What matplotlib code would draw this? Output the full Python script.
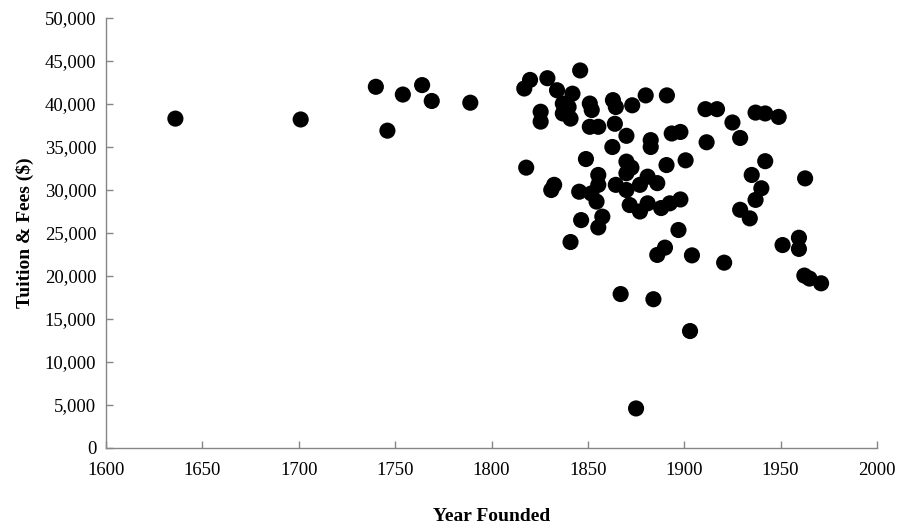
import matplotlib
matplotlib.use("Agg")
import matplotlib.pyplot as plt
from matplotlib.ticker import FuncFormatter

year_founded = [
    1636, 1701, 1740, 1746, 1754, 1764, 1769, 1789,
    1817, 1820, 1829, 1834, 1842, 1846, 1851, 1852, 1863, 1864.5, 1873, 1880, 1891,
    1825.5, 1825.5, 1837, 1840, 1837, 1841, 1851, 1855.4, 1864, 1870, 1882.6, 1882.6,
    1893.5, 1898, 1862.7, 1818, 1849, 1870, 1872.6, 1890.8, 1900.7, 1832.5, 1831,
    1870, 1855.4, 1855.4, 1845.5, 1851.8, 1864.5, 1870, 1877, 1881, 1886,
    1854.5, 1857.5, 1871.7, 1877, 1881, 1888, 1892.5, 1846.5, 1855.4, 1841, 1886, 1890,
    1898, 1897, 1904, 1867, 1884, 1903, 1875,
    1911, 1917, 1937, 1942, 1949, 1925, 1929, 1911.6, 1942, 1935, 1962.7, 1940, 1937,
    1929, 1934, 1920.7, 1951, 1959.5, 1959.5, 1962.3, 1965, 1971,
]
tuition_fees = [
    38300, 38200, 42000, 36900, 41100, 42200, 40350, 40150,
    41800, 42800, 43000, 41600, 41200, 43900, 40050, 39300, 40450, 39650, 39850, 41000, 41000,
    39100, 37950, 40050, 39650, 38900, 38300, 37350, 37350, 37700, 36300, 35800, 35000,
    36570, 36750, 35000, 32600, 33600, 33300, 32600, 32900, 33450, 30600, 30000,
    31950, 31750, 30600, 29800, 29600, 30600, 30000, 30600, 31550, 30800,
    28650, 26900, 28250, 27500, 28450, 27900, 28450, 26500, 25650, 23950, 22450, 23300,
    28900, 25350, 22400, 17900, 17300, 13600, 4600,
    39400, 39400, 39000, 38900, 38500, 37850, 36050, 35550, 33350, 31750, 31350, 30200, 28850,
    27700, 26700, 21550, 23600, 24450, 23150, 20050, 19700, 19150,
]

x_ticks = [1600, 1650, 1700, 1750, 1800, 1850, 1900, 1950, 2000]
y_ticks = [0, 5000, 10000, 15000, 20000, 25000, 30000, 35000, 40000, 45000, 50000]

plt.rcParams['font.family'] = ['Liberation Serif', 'DejaVu Serif']

fig = plt.figure(figsize=(9.04, 5.31), dpi=100)
L, R, T, B = 106, 877, 18, 448
ax = fig.add_axes([L/904, 1-B/531, (R-L)/904, (B-T)/531])

ax.scatter(year_founded, tuition_fees, s=135, color='black', edgecolors='none', zorder=3)

ax.set_xlim(1600, 2000)
ax.set_ylim(0, 50000)
ax.set_xticks(x_ticks)
ax.set_yticks(y_ticks)
ax.yaxis.set_major_formatter(FuncFormatter(lambda v, p: f"{int(v):,}"))

for s in ['top', 'right']:
    ax.spines[s].set_visible(False)
for s in ['left', 'bottom']:
    ax.spines[s].set_color('#868686')
    ax.spines[s].set_linewidth(1.0)

ax.tick_params(axis='both', direction='in', length=5, width=1.0, color='#868686',
               labelsize=13.5, labelcolor='black')
ax.tick_params(axis='x', pad=10)
ax.tick_params(axis='y', pad=7)

ax.set_xlabel('Year Founded', fontsize=14, fontweight='bold', labelpad=21)
ax.set_ylabel('Tuition & Fees ($)', fontsize=14, fontweight='bold', labelpad=8)

fig.savefig('out.png', dpi=100)
